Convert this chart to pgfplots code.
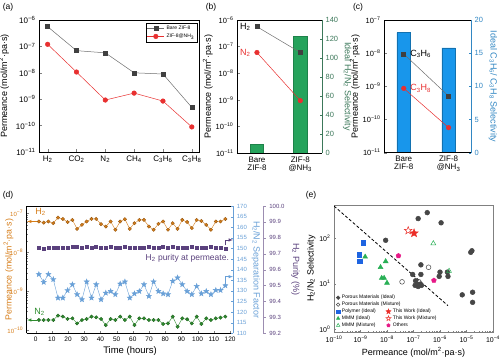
\documentclass[border=0pt]{standalone}
\usepackage{pgfplots}
\pgfplotsset{compat=1.18}
\usepackage{pgfplotstable}
\usepackage{fontspec}
\setmainfont{Liberation Sans}
\newcommand{\fs}[1]{\fontsize{#1}{#1}\selectfont}
\newcommand{\tp}[1]{10\textsuperscript{−#1}}
\definecolor{dkgray}{RGB}{64,64,64}
\definecolor{lgray}{RGB}{110,110,110}
\definecolor{redA}{RGB}{232,48,48}
\definecolor{greenB}{RGB}{38,163,92}
\definecolor{greenT}{RGB}{60,120,90}
\definecolor{blueC}{RGB}{24,150,235}
\definecolor{blueT}{RGB}{50,135,195}
\definecolor{orangeD}{RGB}{214,125,25}
\definecolor{greenD}{RGB}{45,140,45}
\definecolor{skyD}{RGB}{105,160,215}
\definecolor{purpD}{RGB}{90,65,125}
\definecolor{grayE}{RGB}{70,70,70}
\definecolor{blueE}{RGB}{30,100,225}
\definecolor{greenE}{RGB}{40,175,85}
\definecolor{redE}{RGB}{235,45,40}
\definecolor{magE}{RGB}{230,25,135}
\pgfdeclareplotmark{fstar}{%
 \pgfpathmoveto{\pgfpointpolar{90}{\pgfplotmarksize}}%
 \pgfpathlineto{\pgfpointpolar{126}{0.42\pgfplotmarksize}}%
 \pgfpathlineto{\pgfpointpolar{162}{\pgfplotmarksize}}%
 \pgfpathlineto{\pgfpointpolar{198}{0.42\pgfplotmarksize}}%
 \pgfpathlineto{\pgfpointpolar{234}{\pgfplotmarksize}}%
 \pgfpathlineto{\pgfpointpolar{270}{0.42\pgfplotmarksize}}%
 \pgfpathlineto{\pgfpointpolar{306}{\pgfplotmarksize}}%
 \pgfpathlineto{\pgfpointpolar{342}{0.42\pgfplotmarksize}}%
 \pgfpathlineto{\pgfpointpolar{18}{\pgfplotmarksize}}%
 \pgfpathlineto{\pgfpointpolar{54}{0.42\pgfplotmarksize}}%
 \pgfpathclose
 \pgfusepathqfillstroke}

\pgfplotstableread{
t H2 N2 SF P
2.0 6.2e-8 1.82e-10 137.8 99.74
5.0 5.8e-8 1.82e-10 134.1 99.73
7.9 6.2e-8 1.82e-10 137.8 99.74
10.9 5.6e-8 1.82e-10 135.4 99.74
13.8 7.8e-8 2.37e-10 126.7 99.735
16.8 7.2e-8 2.23e-10 126.7 99.74
19.7 6.0e-8 1.94e-10 130.2 99.74
22.7 6.8e-8 2.01e-10 133.0 99.745
25.6 4.0e-8 1.49e-10 128.3 99.745
28.6 5.1e-8 1.82e-10 125.9 99.735
31.5 6.2e-8 1.94e-10 134.3 99.745
34.5 7.2e-8 2.23e-10 126.7 99.735
37.4 7.2e-8 2.14e-10 133.0 99.745
40.4 5.3e-8 1.94e-10 125.9 99.74
43.3 4.6e-8 1.35e-10 129.0 99.74
46.3 6.2e-8 1.94e-10 129.8 99.745
49.2 3.8e-8 1.82e-10 128.3 99.735
52.2 6.2e-8 2.23e-10 133.3 99.74
55.1 7.1e-8 1.82e-10 134.3 99.745
58.1 4.0e-8 2.23e-10 126.7 99.735
61.0 5.6e-8 1.35e-10 128.7 99.74
64.0 6.8e-8 2.01e-10 129.8 99.74
66.9 6.8e-8 2.01e-10 133.0 99.735
69.9 4.6e-8 1.82e-10 127.5 99.745
72.8 3.8e-8 1.82e-10 134.3 99.74
75.8 5.4e-8 1.82e-10 129.8 99.74
78.7 6.2e-8 1.44e-10 128.7 99.745
81.7 3.8e-8 1.49e-10 128.3 99.735
84.6 5.6e-8 2.23e-10 134.6 99.745
87.6 4.0e-8 1.22e-10 136.2 99.74
90.5 6.8e-8 2.01e-10 133.0 99.74
93.5 6.0e-8 1.90e-10 129.8 99.735
96.4 4.2e-8 1.49e-10 128.3 99.745
99.4 6.8e-8 2.23e-10 132.2 99.74
102.3 6.4e-8 1.44e-10 128.7 99.735
105.3 5.1e-8 2.01e-10 129.8 99.74
108.2 3.8e-8 1.82e-10 128.3 99.745
111.2 6.2e-8 2.01e-10 130.3 99.74
114.1 6.2e-8 2.10e-10 130.3 99.74
117.1 7.2e-8 2.23e-10 132.5 99.73
}\tabD

\begin{document}
\begin{tikzpicture}
\path[use as bounding box] (0,0) rectangle (500pt,358pt);
\pgfplotsset{every axis/.append style={scale only axis, anchor=south west,
  /pgf/number format/assume math mode=true, tick align=inside,
  major tick length=2.5pt, minor tick length=1.4pt, line width=0.5pt,
  tick label style={font=\fs{8}}, label style={font=\fs{9}}}}

\node[font=\fs{8.5}] at (8pt,351pt) {(a)};
\node[font=\fs{8.5}] at (211pt,351pt) {(b)};
\node[font=\fs{8.5}] at (358pt,351pt) {(c)};
\node[font=\fs{8.5}] at (8pt,163pt) {(d)};
\node[font=\fs{8.5}] at (311pt,163pt) {(e)};

% ---------------- (a)
\begin{axis}[at={(39pt,206pt)}, width=160pt, height=132pt,
  ymode=log, ymin=1e-11, ymax=1e-6, xmin=-0.3, xmax=5.25,
  xtick={0,1,2,3,4,5},
  xticklabels={H\textsubscript{2},CO\textsubscript{2},N\textsubscript{2},CH\textsubscript{4},C\textsubscript{3}H\textsubscript{6},C\textsubscript{3}H\textsubscript{8}},
  ytick={1e-11,1e-10,1e-9,1e-8,1e-7,1e-6},
  yticklabels={\tp{11},\tp{10},\tp{9},\tp{8},\tp{7},\tp{6}},
  yminorticks=false, xtick pos=bottom, ytick pos=left,
  ylabel={Permeance (mol/m\textsuperscript{2}·pa·s)},
  legend style={at={(0.99,0.98)}, anchor=north east, font=\fs{5}, inner sep=1pt, row sep=-1pt},
  legend cell align=left]
\addplot[lgray, mark=square*, mark size=2pt, mark options={fill=dkgray, draw=dkgray}]
  coordinates {(0,5.6e-7) (1,6.9e-8) (2,5.7e-8) (3,1.0e-8) (4,9e-9) (5,4.9e-10)};
\addlegendentry{Bare ZIF-8}
\addplot[redA, mark=*, mark size=2.3pt, mark options={fill=redA, draw=redA}]
  coordinates {(0,1.2e-7) (1,1.07e-8) (2,9.3e-10) (3,1.7e-9) (4,8.5e-10) (5,8.9e-11)};
\addlegendentry{ZIF-8@NH\textsubscript{3}}
\end{axis}

% ---------------- (b)
\begin{axis}[at={(237pt,205pt)}, width=85pt, height=133pt,
  xmin=-0.46, xmax=1.5, ymin=0, ymax=140,
  axis y line*=right, axis x line=none, ytick={0,20,...,140},
  yticklabel style={color=greenT, font=\fs{7.5}},
  ylabel={Ideal H\textsubscript{2}/N\textsubscript{2} Selectivity},
  ylabel style={rotate=180, color=greenT}, ylabel shift=-2pt,
  y axis line style={greenT}, ytick style={greenT}]
\addplot[ybar, bar width=13.5pt, fill=greenB, draw=greenB!80!black]
  coordinates {(0,9.2) (1,122.4)};
\end{axis}
\begin{axis}[at={(237pt,205pt)}, width=85pt, height=133pt,
  xmin=-0.46, xmax=1.5, ymode=log, ymin=1e-11, ymax=1e-6,
  axis y line*=left, axis x line*=box, xtick pos=bottom,
  xtick={0,1}, xticklabels={{Bare\\ZIF-8},{ZIF-8\\@NH\textsubscript{3}}},
  xticklabel style={align=center}, major x tick style={draw=none},
  ytick={1e-11,1e-10,1e-9,1e-8,1e-7,1e-6},
  yticklabels={\tp{11},\tp{10},\tp{9},\tp{8},\tp{7},\tp{6}},
  yticklabel style={font=\fs{7.5}},
  yminorticks=false, ylabel shift=-4pt,
  ylabel={Permeance (mol/m\textsuperscript{2}·pa·s)}]
\addplot[lgray, mark=square*, mark size=2pt, mark options={fill=dkgray, draw=dkgray}]
  coordinates {(0,5.6e-7) (1,6e-8)};
\addplot[redA, mark=*, mark size=2.3pt, mark options={fill=redA, draw=redA}]
  coordinates {(0,6e-8) (1,9.3e-10)};
\node[anchor=east, font=\fs{9}, xshift=-3pt] at (axis cs:0,5.6e-7) {H\textsubscript{2}};
\node[anchor=east, font=\fs{9}, xshift=-3pt, text=redA] at (axis cs:0,6e-8) {N\textsubscript{2}};
\end{axis}

% ---------------- (c)
\begin{axis}[at={(384pt,205.3pt)}, width=87pt, height=132.7pt,
  xmin=-0.44, xmax=1.5, ymin=0, ymax=20,
  axis y line*=right, axis x line=none, ytick={0,5,...,20},
  yticklabel style={color=blueT, font=\fs{7.5}},
  ylabel={Ideal C\textsubscript{3}H\textsubscript{6}/ C\textsubscript{3}H\textsubscript{8} Selectivity},
  ylabel style={rotate=180, color=blueT}, ylabel shift=-1pt,
  y axis line style={blueT}, ytick style={blueT}]
\addplot[ybar, bar width=13.5pt, fill=blueC, draw=blueC!75!black]
  coordinates {(0,18.1) (1,15.8)};
\end{axis}
\begin{axis}[at={(384pt,205.3pt)}, width=87pt, height=132.7pt,
  xmin=-0.44, xmax=1.5, ymode=log, ymin=1e-11, ymax=1e-7,
  axis y line*=left, axis x line*=box, xtick pos=bottom,
  xtick={0,1}, xticklabels={{Bare\\ZIF-8},{ZIF-8\\@NH\textsubscript{3}}},
  xticklabel style={align=center}, major x tick style={draw=none},
  ytick={1e-11,1e-10,1e-9,1e-8,1e-7},
  yticklabels={\tp{11},\tp{10},\tp{9},\tp{8},\tp{7}},
  yticklabel style={font=\fs{7.5}},
  yminorticks=false, ylabel shift=-4pt,
  ylabel={Permeance (mol/m\textsuperscript{2}·pa·s)}]
\addplot[lgray, mark=square*, mark size=2pt, mark options={fill=dkgray, draw=dkgray}]
  coordinates {(0,9.5e-9) (1,5.1e-10)};
\addplot[redA, mark=*, mark size=2.3pt, mark options={fill=redA, draw=redA}]
  coordinates {(0,8.7e-10) (1,5.7e-11)};
\node[anchor=west, font=\fs{9}, xshift=3pt] at (axis cs:0,9.5e-9) {C\textsubscript{3}H\textsubscript{6}};
\node[anchor=west, font=\fs{9}, xshift=3pt, text=redA] at (axis cs:0,8.7e-10) {C\textsubscript{3}H\textsubscript{8}};
\end{axis}

% ---------------- (d)
\begin{axis}[at={(26.7pt,24.7pt)}, width=206.6pt, height=127.3pt,
  xmin=-5.5, xmax=122, ymode=log, ymin=8.3e-11, ymax=1.55e-7,
  axis y line*=left, axis x line*=box, xtick pos=bottom,
  xtick={0,10,...,120}, tick label style={font=\fs{6.5}},
  ytick={1e-10,1e-9,1e-8,1e-7}, yticklabels={\tp{10},\tp{9},\tp{8},\tp{7}},
  yticklabel style={color=orangeD, font=\fs{6}},
  ylabel={Permeance (mol/m\textsuperscript{2}·pa·s)},
  every axis y label/.style={at={(axis description cs:-0.088,0.5)}, rotate=90, anchor=center, color=orangeD, font=\fs{8.8}},
  xlabel={Time (hours)}, xlabel style={font=\fs{9.5}}, xlabel shift=-2pt]
\addplot[orangeD, line width=0.4pt, mark=*, mark size=1.7pt, mark options={fill=orangeD, draw=orangeD!70!black}]
  table[x=t, y=H2] {\tabD};
\addplot[greenD, line width=0.4pt, mark=*, mark size=1.7pt, mark options={fill=greenD, draw=greenD!70!black}]
  table[x=t, y=N2] {\tabD};
\draw[-latex, orangeD, line width=0.5pt] (axis cs:1,6.2e-8) -- (axis cs:-5.3,6.2e-8);
\draw[-latex, greenD, line width=0.5pt] (axis cs:1,1.82e-10) -- (axis cs:-5.3,1.82e-10);
\node[font=\fs{9}, text=orangeD] at (axis cs:3,1.12e-7) {H\textsubscript{2}};
\node[font=\fs{9}, text=greenD] at (axis cs:2.5,3.0e-10) {N\textsubscript{2}};
\node[anchor=east, font=\fs{8.5}, text=purpD] at (axis cs:121.5,7e-9) {H\textsubscript{2} purity at permeate.};
\end{axis}
\begin{axis}[at={(26.7pt,24.7pt)}, width=206.6pt, height=127.3pt,
  xmin=-5.5, xmax=122, ymin=110, ymax=170,
  axis y line*=right, axis x line=none, ytick={110,115,...,170},
  yticklabel style={color=skyD, font=\fs{6}},
  y axis line style={skyD}, ytick style={skyD},
  ylabel={H\textsubscript{2}/N\textsubscript{2} Separation Factor},
  ylabel style={rotate=180, color=skyD, font=\fs{9}}, ylabel shift=-2pt]
\addplot[skyD, line width=0.4pt, mark=fstar, mark size=2.7pt, mark options={fill=skyD, draw=skyD}]
  table[x=t, y=SF] {\tabD};
\draw[-latex, purpD, line width=0.5pt] (axis cs:117.1,151.5) -- (axis cs:117.1,154) -- (axis cs:121.8,154);
\draw[-latex, skyD, line width=0.5pt] (axis cs:117.1,133.5) -- (axis cs:117.1,136.7) -- (axis cs:121.8,136.7);
\end{axis}
\begin{axis}[at={(26.7pt,24.7pt)}, width=236.6pt, height=127.3pt,
  xmin=-5.5, xmax=140.51, ymin=99.2, ymax=100.0,
  axis y line*=right, axis x line=none,
  ytick={99.2,99.3,99.4,99.5,99.6,99.7,99.8,99.9,100.0},
  yticklabel style={color=purpD, font=\fs{6}, /pgf/number format/fixed, /pgf/number format/precision=1, /pgf/number format/fixed zerofill},
  y axis line style={purpD!60}, ytick style={purpD!60}, tick align=outside,
  ylabel={H\textsubscript{2} Purity (\%)},
  ylabel style={rotate=180, color=purpD, font=\fs{9}}]
\addplot[only marks, mark=square*, mark size=1.5pt, mark options={fill=purpD, draw=purpD}]
  table[x=t, y=P] {\tabD};
\end{axis}

% ---------------- (e)
\begin{axis}[at={(334pt,26pt)}, width=159pt, height=127pt,
  xmode=log, ymode=log, xmin=1e-10, xmax=1e-4, ymin=0.87, ymax=537,
  axis line style={gray}, tick style={gray},
  tick label style={font=\fs{7}},
  xtick={1e-10,1e-9,1e-8,1e-7,1e-6,1e-5,1e-4},
  xticklabels={\tp{10},\tp{9},\tp{8},\tp{7},\tp{6},\tp{5},\tp{4}},
  ytick={1,10,100}, yticklabels={10\textsuperscript{0},10\textsuperscript{1},10\textsuperscript{2}},
  xtick pos=bottom, ytick pos=left,
  xlabel={Permeance (mol/m\textsuperscript{2}·pa·s)}, xlabel style={font=\fs{9}}, xlabel shift=-2pt,
  ylabel={H\textsubscript{2}/N\textsubscript{2} Selectivity}, ylabel style={font=\fs{9}}, ylabel shift=-3pt,
  legend columns=2, legend cell align=left,
  legend style={at={(0.01,0.01)}, anchor=south west, draw=none, fill=none,
    font=\fs{5}, row sep=-2.2pt, inner sep=0.5pt,
    /tikz/every even column/.append style={column sep=4pt}}]
\addplot[forget plot, black, densely dashed, line width=0.8pt] coordinates {(1e-10,510) (2e-6,3.3)};
\addplot[forget plot, only marks, mark=*, mark size=2.4pt, grayE]
  coordinates {(1.5e-7,270) (3.3e-7,365) (1.1e-6,218) (8.9e-9,90) (1.9e-7,26) (9.3e-8,16) (1.9e-7,16) (1e-6,18) (1.9e-6,18) (9.3e-7,14.5) (2e-6,14.5) (1.2e-7,11.6) (1.4e-7,9.8) (1.8e-7,9.8) (1.5e-7,8.7) (2e-7,9.2) (1.15e-7,9.2) (1.45e-5,49) (1.6e-5,53) (6.9e-6,5.7) (1.7e-5,6.5) (1.7e-5,3.9)};
\addplot[forget plot, only marks, mark=o, mark size=2.4pt, grayE, mark options={fill=white}]
  coordinates {(3.7e-7,23) (3.7e-8,11) (1.6e-7,11)};
\addplot[forget plot, only marks, mark=square*, mark size=2.2pt, blueE]
  coordinates {(1.3e-9,80) (9.1e-10,43) (9.5e-10,31)};
\addplot[forget plot, only marks, mark=triangle*, mark size=2.8pt, greenE]
  coordinates {(1.5e-9,39) (8.9e-9,31) (5.7e-9,23) (6.3e-9,13.3) (7.8e-9,13.3) (1e-8,10.4)};
\addplot[forget plot, only marks, mark=triangle, mark size=2.8pt, greenE]
  coordinates {(5.6e-7,77) (2.2e-6,19)};
\addplot[forget plot, only marks, mark=fstar, mark size=4pt, redE, mark options={fill=white}]
  coordinates {(6.3e-8,147)};
\addplot[forget plot, only marks, mark=fstar, mark size=4.3pt, redE, mark options={fill=redE}]
  coordinates {(1.05e-7,129)};
\addplot[forget plot, only marks, mark=pentagon*, mark size=2.5pt, magE]
  coordinates {(2.7e-8,41) (5.9e-7,11.8)};
\addlegendimage{only marks, mark=*, mark size=1.8pt, grayE}
\addlegendentry{\makebox[32pt][l]{Porous Materials (Ideal)}}
\addlegendimage{empty legend}\addlegendentry{}
\addlegendimage{only marks, mark=o, mark size=1.8pt, grayE}
\addlegendentry{\makebox[32pt][l]{Porous Materials (Mixture)}}
\addlegendimage{empty legend}\addlegendentry{}
\addlegendimage{only marks, mark=square*, mark size=1.7pt, blueE}
\addlegendentry{\makebox[32pt][l]{Polymer (Ideal)}}
\addlegendimage{only marks, mark=fstar, mark size=2.6pt, redE, mark options={fill=redE}}
\addlegendentry{This Work (Ideal)}
\addlegendimage{only marks, mark=triangle*, mark size=2pt, greenE}
\addlegendentry{\makebox[32pt][l]{MMM (Ideal)}}
\addlegendimage{only marks, mark=fstar, mark size=2.6pt, redE, mark options={fill=white}}
\addlegendentry{This Work (Mixture)}
\addlegendimage{only marks, mark=triangle, mark size=2pt, greenE}
\addlegendentry{\makebox[32pt][l]{MMM (Mixture)}}
\addlegendimage{only marks, mark=pentagon*, mark size=1.8pt, magE}
\addlegendentry{Others}
\end{axis}
\end{tikzpicture}
\end{document}
